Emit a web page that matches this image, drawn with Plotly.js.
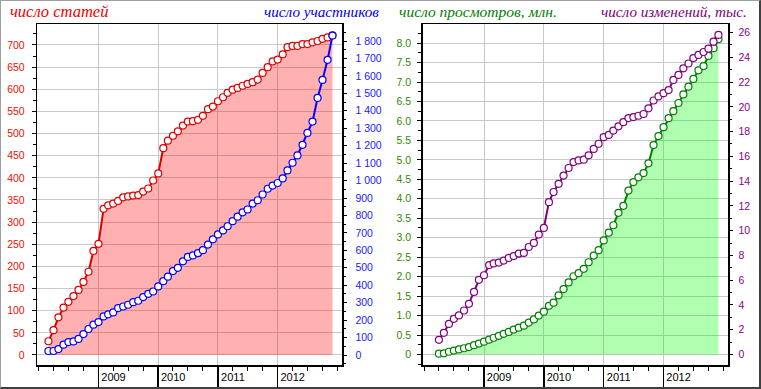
<!DOCTYPE html>
<html>
<head>
<meta charset="utf-8">
<script src="https://cdn.plot.ly/plotly-3.0.1.min.js"></script>
<style>
  html, body { margin: 0; padding: 0; background: #fff; }
  #wrap { position: relative; width: 761px; height: 389px; }
  #chart { position: absolute; left: 0; top: 0; width: 761px; height: 389px; }
  #frame { position: absolute; left: 0; top: 0; width: 761px; height: 389px; box-sizing: border-box;
           border-left: 1px solid #a0a0a0; border-top: 1px solid #a0a0a0;
           border-right: 2px solid #404040; border-bottom: 2px solid #404040; pointer-events: none; }
</style>
</head>
<body>
<div id="wrap"><div id="chart"></div><div id="frame"></div></div>
<script>
// ---- data (monthly) ----
const monthsLeft = [
  '2008-03','2008-04','2008-05','2008-06','2008-07','2008-08','2008-09','2008-10','2008-11','2008-12',
  '2009-01','2009-02','2009-03','2009-04','2009-05','2009-06','2009-07','2009-08','2009-09','2009-10','2009-11','2009-12',
  '2010-01','2010-02','2010-03','2010-04','2010-05','2010-06','2010-07','2010-08','2010-09','2010-10','2010-11','2010-12',
  '2011-01','2011-02','2011-03','2011-04','2011-05','2011-06','2011-07','2011-08','2011-09','2011-10','2011-11','2011-12',
  '2012-01','2012-02','2012-03','2012-04','2012-05','2012-06','2012-07','2012-08','2012-09','2012-10','2012-11','2012-12'
];
const monthsRight = [
  '2008-04','2008-05','2008-06','2008-07','2008-08','2008-09','2008-10','2008-11','2008-12',
  '2009-01','2009-02','2009-03','2009-04','2009-05','2009-06','2009-07','2009-08','2009-09','2009-10','2009-11','2009-12',
  '2010-01','2010-02','2010-03','2010-04','2010-05','2010-06','2010-07','2010-08','2010-09','2010-10','2010-11','2010-12',
  '2011-01','2011-02','2011-03','2011-04','2011-05','2011-06','2011-07','2011-08','2011-09','2011-10','2011-11','2011-12',
  '2012-01','2012-02','2012-03','2012-04','2012-05','2012-06','2012-07','2012-08','2012-09','2012-10','2012-11','2012-12'
];

// число статей
const articles = [
  31, 56, 85, 107, 120, 133, 147, 165, 188, 235,
  251, 330, 338, 342, 348, 356, 358, 360, 361, 369,
  376, 394, 410, 467, 484, 495, 505, 518, 527, 528,
  531, 540, 555, 561, 573, 582, 592, 599, 603, 608,
  612, 616, 622, 637, 650, 663, 667, 679, 695, 698,
  698, 702, 702, 706, 709, 714, 717, 722
];
// число участников
const members = [
  23, 23, 34, 59, 74, 78, 92, 120, 149, 174,
  189, 221, 233, 244, 269, 278, 288, 303, 311, 332,
  351, 364, 393, 423, 449, 481, 500, 537, 562, 571,
  584, 601, 633, 663, 691, 714, 738, 767, 793, 818,
  834, 868, 887, 920, 953, 971, 986, 1012, 1058, 1102,
  1144, 1205, 1273, 1338, 1474, 1577, 1692, 1831
];
// число просмотров, млн.
const views = [
  0.02, 0.03, 0.07, 0.10, 0.13, 0.16, 0.19, 0.24, 0.28, 0.33,
  0.38, 0.43, 0.48, 0.53, 0.58, 0.64, 0.69, 0.74, 0.82, 0.90,
  1.00, 1.10, 1.25, 1.33, 1.52, 1.68, 1.85, 2.01, 2.09, 2.20,
  2.37, 2.54, 2.68, 2.93, 3.13, 3.32, 3.64, 3.82, 4.21, 4.43,
  4.55, 4.66, 4.91, 5.38, 5.61, 5.84, 6.07, 6.25, 6.46, 6.68,
  6.88, 7.08, 7.30, 7.41, 7.67, 7.87, 8.10
];
// число изменений, тыс.
const edits = [
  1.18, 1.75, 2.47, 2.88, 3.15, 3.55, 4.09, 5.05, 6.03, 6.40,
  7.22, 7.35, 7.42, 7.58, 7.80, 7.95, 8.15, 8.20, 8.68, 9.01,
  9.68, 10.22, 12.30, 13.12, 13.78, 14.45, 15.06, 15.54, 15.67, 15.73,
  16.08, 16.60, 17.02, 17.55, 17.73, 18.08, 18.43, 18.76, 19.09, 19.17,
  19.28, 19.42, 19.88, 20.51, 20.84, 21.10, 21.35, 22.17, 22.58, 23.11,
  23.50, 23.94, 24.19, 24.43, 24.70, 25.26, 25.81
];

// tick labels
const yearTickVals = ['2009-01-01', '2010-01-01', '2011-01-01', '2012-01-01'];
const yearTickText = ['2009', '2010', '2011', '2012'];
const viewsTickVals = [0, 0.5, 1, 1.5, 2, 2.5, 3, 3.5, 4, 4.5, 5, 5.5, 6, 6.5, 7, 7.5, 8];
const viewsTickText = ['0', '0.5', '1.0', '1.5', '2.0', '2.5', '3.0', '3.5', '4.0', '4.5', '5.0', '5.5', '6.0', '6.5', '7.0', '7.5', '8.0'];

const titles = {
  articles: 'число статей',
  members: 'число участников',
  views: 'число просмотров, млн.',
  edits: 'число изменений, тыс.'
};

// ---- styling ----
const W = 761, H = 389;
const GRID = '#c8c8c8';
const TICKFONT = 'Liberation Sans, Arial, sans-serif';
const TITLEFONT = 'Liberation Serif, Times New Roman, serif';
const C = { red: '#dd0000', blue: '#0000ff', green: '#008000', purple: '#800080' };

const yDom = [(H - 365) / H, (H - 24) / H];
const xDomL = [37.3 / W, 342.3 / W];
const xDomR = [422.7 / W, 728.3 / W];
const xRange = ['2007-12-24', '2013-01-30'];

function xAxis(domain, anchor) {
  return {
    type: 'date', domain: domain, anchor: anchor, range: xRange,
    tickmode: 'array', tickvals: yearTickVals, ticktext: yearTickText,
    ticks: 'outside', ticklen: 21, tickwidth: 1.5, tickcolor: '#000',
    ticklabelshift: 15, ticklabelstandoff: -20,
    tickfont: { family: TICKFONT, size: 11, color: '#000' },
    showgrid: true, gridcolor: GRID, gridwidth: 1,
    showline: true, linecolor: '#000', linewidth: 1.5, mirror: true,
    zeroline: false, fixedrange: true,
    minor: { tickmode: 'linear', tick0: '2008-01-01', dtick: 'M3', ticks: 'outside', ticklen: 4,
             tickwidth: 1, tickcolor: '#000', showgrid: false }
  };
}

function mkTrace(x, y, xa, ya, color, fill, fillcolor) {
  const t = {
    type: 'scatter', mode: 'lines+markers', x: x, y: y, xaxis: xa, yaxis: ya,
    line: { color: color, width: 2 },
    marker: { symbol: 'circle', size: 7, color: '#fff', line: { color: color, width: 1.2 } },
    cliponaxis: false, hoverinfo: 'skip'
  };
  if (fill) { t.fill = 'tozeroy'; t.fillcolor = fillcolor; }
  return t;
}

const data = [
  mkTrace(monthsLeft, articles, 'x', 'y', C.red, true, 'rgba(255,0,0,0.31)'),
  mkTrace(monthsLeft, members, 'x', 'y2', C.blue, false),
  mkTrace(monthsRight, views, 'x2', 'y3', C.green, true, 'rgba(0,255,0,0.31)'),
  mkTrace(monthsRight, edits, 'x2', 'y4', C.purple, false)
];

function ann(text, xpx, anchor, color, size) {
  return {
    text: text, xref: 'paper', yref: 'paper', x: xpx / W, y: 1 - 12 / H,
    xanchor: anchor, yanchor: 'middle', showarrow: false,
    font: { family: TITLEFONT, size: size, color: color, style: 'italic' }
  };
}

const layout = {
  width: W, height: H,
  margin: { l: 0, r: 0, t: 0, b: 0, pad: 0 },
  paper_bgcolor: '#fff', plot_bgcolor: '#fff',
  showlegend: false, hovermode: false,
  separators: '. ',
  xaxis: xAxis(xDomL, 'y'),
  xaxis2: xAxis(xDomR, 'y3'),
  yaxis: {
    domain: yDom, anchor: 'x', range: [-22.6, 747.4],
    tickmode: 'linear', tick0: 0, dtick: 50,
    ticks: 'outside', ticklen: 4, tickcolor: '#000', ticklabelstandoff: 5,
    tickfont: { family: TICKFONT, size: 10.5, color: '#ee1100' },
    showgrid: true, gridcolor: GRID, gridwidth: 1, zeroline: false,
    showline: true, linecolor: '#000', linewidth: 1.5, mirror: true, fixedrange: true,
    minor: { tickmode: 'linear', tick0: 0, dtick: 25, ticks: 'outside', ticklen: 3, tickcolor: '#000', showgrid: false }
  },
  yaxis2: {
    overlaying: 'y', side: 'right', anchor: 'x', range: [-57.3, 1897.5],
    tickmode: 'linear', tick0: 0, dtick: 100, tickformat: ',d',
    ticks: 'outside', ticklen: 4, tickcolor: '#000', ticklabelstandoff: 6,
    tickfont: { family: TICKFONT, size: 10.5, color: '#1a1aff' },
    showgrid: false, zeroline: false, showline: false, fixedrange: true,
    minor: { tickmode: 'linear', tick0: 0, dtick: 50, ticks: 'outside', ticklen: 3, tickcolor: '#000', showgrid: false }
  },
  yaxis3: {
    domain: yDom, anchor: 'x2', range: [-0.27, 8.49],
    tickmode: 'array', tickvals: viewsTickVals, ticktext: viewsTickText,
    ticks: 'outside', ticklen: 4, tickcolor: '#000', ticklabelstandoff: 4,
    tickfont: { family: TICKFONT, size: 10.5, color: '#2e8a00' },
    showgrid: true, gridcolor: GRID, gridwidth: 1, zeroline: false,
    showline: true, linecolor: '#000', linewidth: 1.5, mirror: true, fixedrange: true,
    minor: { tickmode: 'linear', tick0: 0, dtick: 0.25, ticks: 'outside', ticklen: 3, tickcolor: '#000', showgrid: false }
  },
  yaxis4: {
    overlaying: 'y3', side: 'right', anchor: 'x2', range: [-0.85, 26.69],
    tickmode: 'linear', tick0: 0, dtick: 2,
    ticks: 'outside', ticklen: 4, tickcolor: '#000', ticklabelstandoff: 3,
    tickfont: { family: TICKFONT, size: 10.5, color: '#8a008a' },
    showgrid: false, zeroline: false, showline: false, fixedrange: true,
    minor: { tickmode: 'linear', tick0: 0, dtick: 1, ticks: 'outside', ticklen: 3, tickcolor: '#000', showgrid: false }
  },
  annotations: [
    ann(titles.articles, 8, 'left', '#ee0000', 16.5),
    ann(titles.members, 380.5, 'right', '#0000ee', 15.2),
    ann(titles.views, 396.7, 'left', '#008000', 15.5),
    ann(titles.edits, 749.3, 'right', '#800080', 15.2)
  ]
};

Plotly.newPlot('chart', data, layout, { staticPlot: true, displayModeBar: false });
</script>
</body>
</html>
